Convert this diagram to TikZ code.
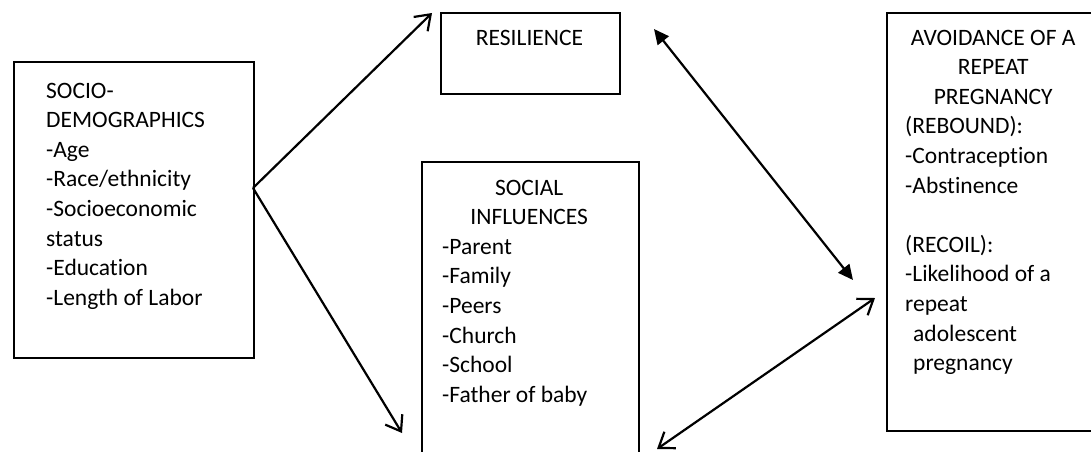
\documentclass[tikz,border=0pt]{standalone}
\usepackage{fontspec}
\setmainfont{Carlito}[Ligatures={NoCommon}]
\usetikzlibrary{arrows.meta}
\tikzset{
  box/.style={draw, line width=2.4pt, rectangle, inner sep=0pt, anchor=north west},
  txt/.style={inner sep=0pt, anchor=base west},
  ctxt/.style={inner sep=0pt, anchor=base},
  openarrow/.style={line width=2.2pt, -{Straight Barb[length=14pt,width=20pt]}},
  openboth/.style={line width=2.2pt, {Straight Barb[length=14pt,width=20pt]}-{Straight Barb[length=14pt,width=20pt]}},
  filledboth/.style={line width=2.2pt, {Triangle[length=15pt,width=14pt]}-{Triangle[length=15pt,width=14pt]}}
}
\newcommand{\dfs}{\fontsize{23.5pt}{29.6pt}\selectfont}
\newcommand{\cl}[1]{\makebox[\linewidth][c]{#1}}
\begin{document}
\begin{tikzpicture}[x=1pt,y=-1pt]
\useasboundingbox (0,0) rectangle (1091,451);
\clip (0,0) rectangle (1091,451);
% boxes
\node[box, minimum width=240pt, minimum height=296pt] (socio) at (13,61) {};
\node[box, minimum width=179pt, minimum height=81pt] (resil) at (440,12) {};
\node[box, minimum width=217pt, minimum height=320pt] (social) at (421,161) {};
\node[box, minimum width=220pt, minimum height=418pt] (avoid) at (886,12) {};
% texts
\node[txt] (sociotxt) at (46,98) {\parbox[t]{205pt}{\dfs\raggedright
SOCIO-\\DEMOGRAPHICS\\-Age\\-Race/ethnicity\\-Socioeconomic\\status\\-Education\\-Length of Labor}};
\node[ctxt] (resiltxt) at (529.5,45) {\dfs RESILIENCE};
\node[txt] (socialtxt) at (442,195) {\parbox[t]{174pt}{\dfs\raggedright
\cl{SOCIAL}\\\cl{INFLUENCES}\\-Parent\\-Family\\-Peers\\-Church\\-School\\-Father of baby}};
\node[txt] (avoidtxt) at (905,45) {\parbox[t]{176pt}{\dfs\raggedright
\cl{AVOIDANCE OF A}\\\cl{REPEAT}\\\cl{PREGNANCY}\\(REBOUND):\\-Contraception\\-Abstinence\\[29.6pt]
(RECOIL):\\-Likelihood of a\\repeat\\\hspace*{8pt}adolescent\\\hspace*{8pt}pregnancy}};
% connectors
\coordinate (a0) at (253,188);
\coordinate (a1) at (432,13);
\coordinate (a2) at (402,433);
\coordinate (b1) at (654,29);
\coordinate (b2) at (853,280);
\coordinate (c1) at (657,449);
\coordinate (c2) at (875,298);
\draw[openarrow] (a0) -- (a1);
\draw[openarrow] (a0) -- (a2);
\draw[filledboth] (b1) -- (b2);
\draw[openboth] (c1) -- (c2);
\end{tikzpicture}
\end{document}
